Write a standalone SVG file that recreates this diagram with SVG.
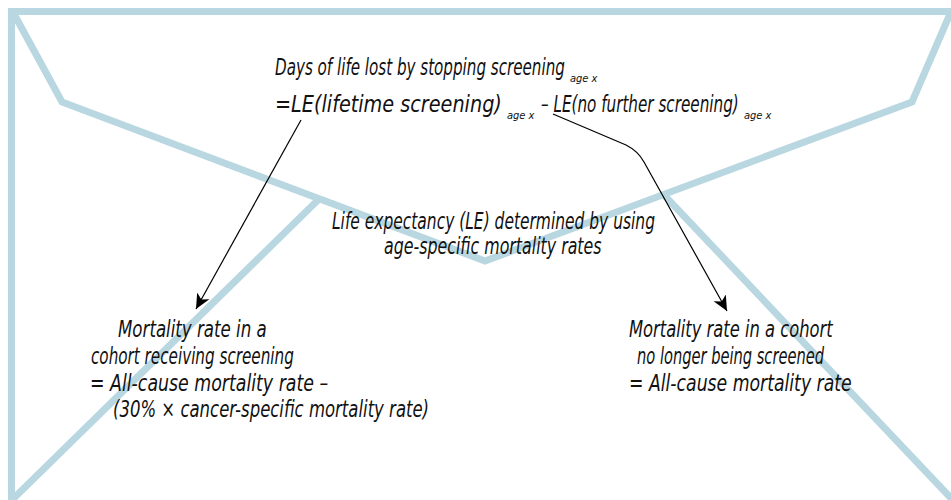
<svg xmlns="http://www.w3.org/2000/svg" width="951" height="500" viewBox="0 0 951 500">
<defs>
<style>
.env{fill:none;stroke:#b9d7e1;stroke-width:7;stroke-linejoin:miter}
.t{font-family:"DejaVu Sans Condensed","Liberation Sans Narrow","DejaVu Sans",sans-serif;font-style:italic;font-size:23px;fill:#111}
.s{font-family:"DejaVu Sans Condensed","Liberation Sans Narrow","DejaVu Sans",sans-serif;font-style:italic;font-size:11px;fill:#111}
.c{fill:none;stroke:#000;stroke-width:1.2}
</style>
<marker id="ah" markerUnits="userSpaceOnUse" markerWidth="16" markerHeight="16" viewBox="0 0 16 16" refX="15" refY="8" orient="auto">
<path d="M0,1 L15,8 L0,15 L4,8 Z" fill="#000"/>
</marker>
</defs>
<rect width="951" height="500" fill="#fff"/>
<g id="envelope">
<rect class="env" x="11.5" y="11.5" width="960" height="492"/>
<polyline class="env" points="14,14 62,102 485,261 912,102 950,14"/>
<line class="env" x1="13" y1="499" x2="319" y2="199"/>
<line class="env" x1="664" y1="195" x2="965" y2="513"/>
</g>
<g id="connectors">
<path class="c" d="M301,120 L196,309" marker-end="url(#ah)"/>
<path class="c" d="M553,114 L626,145 Q638,151 644,162 L727,311" marker-end="url(#ah)"/>
</g>
<g id="formula">
<text class="t" transform="translate(275,75) scale(0.732,1)">Days of life lost by stopping screening</text>
<text class="s" x="570" y="82">age x</text>
<text class="t" transform="translate(275,112) scale(0.93,1)">=LE(lifetime screening)</text>
<text class="s" x="507" y="119">age x</text>
<text class="t" transform="translate(541,112) scale(0.735,1)">– LE(no further screening)</text>
<text class="s" x="744" y="119">age x</text>
</g>
<g id="le-note">
<text class="t" transform="translate(332,229) scale(0.748,1)">Life expectancy (LE) determined by using</text>
<text class="t" transform="translate(384,254) scale(0.765,1)">age-specific mortality rates</text>
</g>
<g id="screened-cohort">
<text class="t" transform="translate(118,337) scale(0.805,1)">Mortality rate in a</text>
<text class="t" transform="translate(91,364) scale(0.735,1)">cohort receiving screening</text>
<text class="t" transform="translate(90,391) scale(0.84,1)">= All-cause mortality rate –</text>
<text class="t" transform="translate(113,417) scale(0.798,1)">(30% × cancer-specific mortality rate)</text>
</g>
<g id="unscreened-cohort">
<text class="t" transform="translate(629,337) scale(0.79,1)">Mortality rate in a cohort</text>
<text class="t" transform="translate(637,364) scale(0.708,1)">no longer being screened</text>
<text class="t" transform="translate(629,391) scale(0.835,1)">= All-cause mortality rate</text>
</g>
</svg>
